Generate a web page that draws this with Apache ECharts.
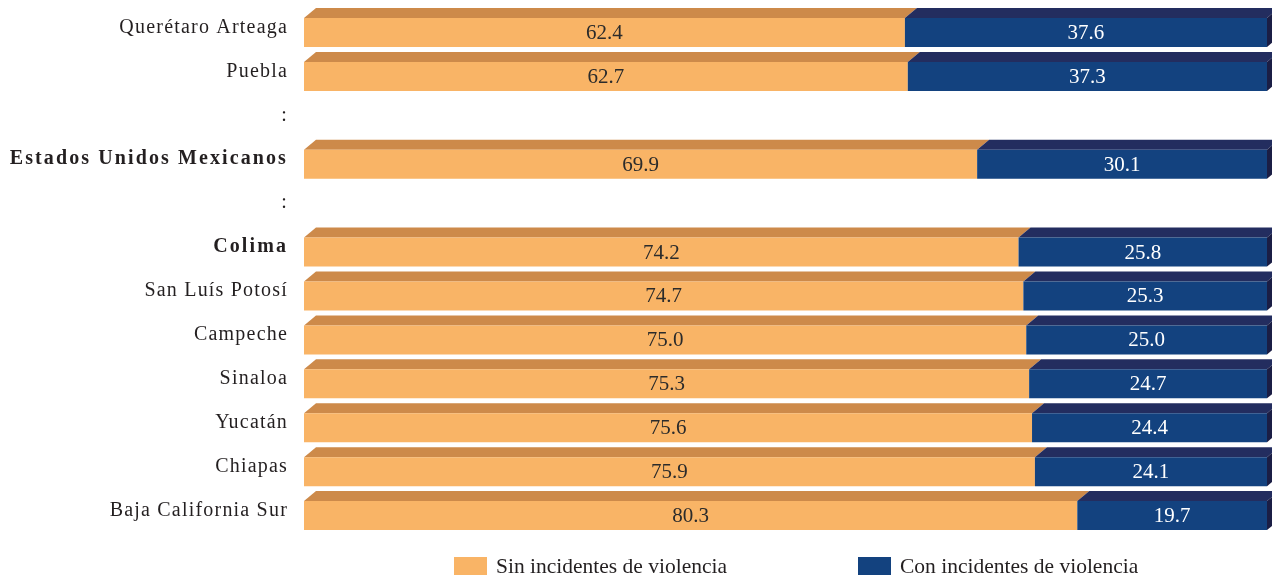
<!DOCTYPE html>
<html>
<head>
<meta charset="utf-8">
<script src="https://cdn.jsdelivr.net/npm/echarts@6/dist/echarts.min.js"></script>
<style>
  html, body { margin: 0; padding: 0; background: #fff; }
  #chart { width: 1272px; height: 575px; }
</style>
</head>
<body>
<div id="chart"></div>
<script>
// Rows from top to bottom; ':' rows are gaps in the ranking.
const categories = ['Querétaro Arteaga', 'Puebla', ':', 'Estados Unidos Mexicanos', ':', 'Colima',
  'San Luís Potosí', 'Campeche', 'Sinaloa', 'Yucatán', 'Chiapas', 'Baja California Sur'];
const sinViolencia = [62.4, 62.7, null, 69.9, null, 74.2, 74.7, 75.0, 75.3, 75.6, 75.9, 80.3];
const conViolencia = [37.6, 37.3, null, 30.1, null, 25.8, 25.3, 25.0, 24.7, 24.4, 24.1, 19.7];
const boldRows = ['Estados Unidos Mexicanos', 'Colima'];
const seriesNames = ['Sin incidentes de violencia', 'Con incidentes de violencia'];

// Tracked lettering for the row labels (font family list "… Times New Roman" marks them).
(function () {
  const proto = CanvasRenderingContext2D.prototype;
  const fill = proto.fillText;
  proto.fillText = function (t, x, y, w) {
    if ('letterSpacing' in this) {
      const f = this.font || '';
      if (/Times New Roman/.test(f)) {
        this.letterSpacing = /bold|700/.test(f) ? '2.1px' : '1.2px';
      } else {
        this.letterSpacing = '0px';
      }
    }
    return w === undefined ? fill.call(this, t, x, y) : fill.call(this, t, x, y, w);
  };
})();

const LABEL_FONT = '"Liberation Serif", "Times New Roman"';
const FONT = '"Liberation Serif", serif';

const DX = 12, DY = 10;       // depth of the bars
const FRONT_UP = 9.5, FRONT_DOWN = 19.5;

const palette = {
  sin: { front: '#F9B466', top: '#CD8A4A', text: '#2b2b2b' },
  con: { front: '#13427F', top: '#232D5F', side: '#1B1E45', text: '#ffffff' }
};

const sinData = [], conData = [];
categories.forEach((c, i) => {
  if (sinViolencia[i] == null) return;
  sinData.push([0, sinViolencia[i], i, sinViolencia[i]]);
  conData.push([sinViolencia[i], sinViolencia[i] + conViolencia[i], i, conViolencia[i]]);
});

function makeRender(colors, withSide) {
  return function (params, api) {
    const idx = api.value(2);
    const s = api.coord([api.value(0), idx]);
    const e = api.coord([api.value(1), idx]);
    const x0 = s[0], x1 = e[0], c = s[1];
    const fTop = c - FRONT_UP, fBot = c + FRONT_DOWN, tTop = fTop - DY;
    const children = [
      { type: 'polygon', shape: { points: [[x0, fTop], [x0 + DX, tTop], [x1 + DX, tTop], [x1, fTop]] },
        style: { fill: colors.top } },
      { type: 'rect', shape: { x: x0, y: fTop, width: x1 - x0, height: fBot - fTop },
        style: { fill: colors.front } }
    ];
    if (withSide) {
      children.push({ type: 'polygon',
        shape: { points: [[x1, fTop], [x1 + DX, tTop], [x1 + DX, fBot - DY], [x1, fBot]] },
        style: { fill: colors.side } });
    }
    children.push({ type: 'text',
      style: { x: (x0 + x1) / 2, y: (fTop + fBot) / 2 + 1, text: api.value(3).toFixed(1),
        align: 'center', verticalAlign: 'middle', fill: colors.text,
        font: '21px ' + FONT } });
    return { type: 'group', children: children };
  };
}

const legendText = { fontSize: 21.5, color: '#231f20', fontFamily: FONT, padding: [0, 0, 0, 4] };

const chart = echarts.init(document.getElementById('chart'), null, { renderer: 'canvas' });
chart.setOption({
  animation: false,
  grid: { left: 304, right: 5, top: 5.5, bottom: 42.5 },
  xAxis: { type: 'value', min: 0, max: 100, show: false },
  yAxis: {
    type: 'category', data: categories, inverse: true,
    axisLine: { show: false }, axisTick: { show: false }, splitLine: { show: false },
    axisLabel: {
      margin: 16, fontSize: 20, color: '#231f20', fontFamily: LABEL_FONT,
      formatter: v => boldRows.includes(v) ? '{b|' + v + '}' : v,
      rich: { b: { fontSize: 20, fontWeight: 'bold', color: '#231f20', fontFamily: LABEL_FONT } }
    }
  },
  legend: [
    { data: [seriesNames[0]], left: 454, top: 556, padding: 0, itemWidth: 33, itemHeight: 20,
      icon: 'rect', textStyle: legendText },
    { data: [seriesNames[1]], left: 858, top: 556, padding: 0, itemWidth: 33, itemHeight: 20,
      icon: 'rect', textStyle: legendText }
  ],
  series: [
    { type: 'custom', name: seriesNames[0], data: sinData, encode: { x: [0, 1], y: 2 },
      itemStyle: { color: palette.sin.front }, renderItem: makeRender(palette.sin, false) },
    { type: 'custom', name: seriesNames[1], data: conData, encode: { x: [0, 1], y: 2 },
      itemStyle: { color: palette.con.front }, renderItem: makeRender(palette.con, true) }
  ]
});
</script>
</body>
</html>
